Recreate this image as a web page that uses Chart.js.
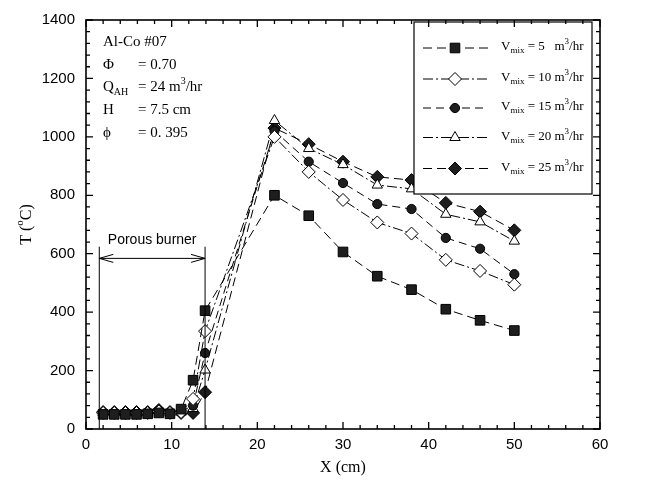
<!DOCTYPE html>
<html>
<head>
<meta charset="utf-8">
<script src="https://cdn.jsdelivr.net/npm/chart.js"></script>
<style>
  html, body { margin: 0; padding: 0; background: #fff; }
  #wrap { width: 646px; height: 482px; }
</style>
</head>
<body>
<div id="wrap"><canvas id="c" width="646" height="482"></canvas></div>
<script>
// positions of thermocouples (cm)
const xPos = [2.0, 3.3, 4.6, 5.9, 7.2, 8.5, 9.8, 11.1, 12.5, 13.9, 22, 26, 30, 34, 38, 42, 46, 50];

// temperatures (C) for each mixture flow rate
const t5  = [50, 50, 50, 50, 52, 55, 52, 68, 167, 405, 800, 730, 606, 523, 477, 410, 372, 337];
const t10 = [55, 55, 55, 55, 55, 60, 55, 58, 103, 335, 1000, 880, 784, 707, 669, 579, 541, 494];
const t15 = [55, 55, 55, 55, 55, 62, 55, 60, 80, 260, 1020, 915, 842, 770, 753, 654, 617, 530];
const t20 = [55, 55, 55, 55, 55, 62, 55, 58, 70, 202, 1056, 960, 905, 835, 822, 735, 709, 643];
const t25 = [58, 58, 58, 58, 58, 65, 58, 55, 55, 126, 1030, 975, 915, 863, 852, 774, 744, 680];

const flowRates = ['5  ', '10', '15', '20', '25'];
const xTicks = [0, 10, 20, 30, 40, 50, 60];
const yTicks = [0, 200, 400, 600, 800, 1000, 1200, 1400];

// porous burner extent (cm) and annotation levels (C)
const burnerFrom = 1.55;
const burnerTo = 13.9;
const burnerArrowT = 584;
const burnerLineTopT = 624;
const burnerTextT = 645;

const infoLines = [
  { label: [['Al-Co #07']], value: null },
  { label: [['Φ']], value: [['= 0.70']] },
  { label: [['Q'], ['AH', 'sub']], value: [['= 24 m'], ['3', 'sup'], ['/hr']] },
  { label: [['H']], value: [['= 7.5 cm']] },
  { label: [['ϕ']], value: [['= 0. 395']] }
];

const pts = arr => arr.map((v, i) => ({ x: xPos[i], y: v }));
const DARK = '#1e1e1e';

const styles = [
  { data: t5,  pointStyle: 'rect',     radius: 6.8, fill: DARK,   dash: [9, 5] },
  { data: t10, pointStyle: 'rectRot',  radius: 6.5, fill: '#fff', dash: [10, 3, 2, 3] },
  { data: t15, pointStyle: 'circle',   radius: 4.6, fill: DARK,   dash: [8, 5] },
  { data: t20, pointStyle: 'triangle', radius: 6,   fill: '#fff', dash: [10, 3, 2, 3] },
  { data: t25, pointStyle: 'rectRot',  radius: 6.5, fill: DARK,   dash: [9, 5] }
];

const datasets = styles.map((s, i) => ({
  label: 'Vmix = ' + flowRates[i] + ' m3/hr',
  data: pts(s.data),
  showLine: true,
  borderColor: '#000',
  borderWidth: 1,
  borderDash: s.dash,
  pointStyle: s.pointStyle,
  pointRadius: s.radius,
  pointBackgroundColor: s.fill,
  pointBorderColor: '#000',
  pointBorderWidth: 1,
  tension: 0
}));

function richText(ctx, parts, x, y, size, family, align) {
  const runs = parts.map(([t, kind]) => {
    const fs = kind ? Math.round(size * 0.68) : size;
    ctx.font = fs + 'px ' + family;
    return { t, fs, dy: kind === 'sub' ? size * 0.3 : kind === 'sup' ? -size * 0.4 : 0, w: ctx.measureText(t).width };
  });
  const total = runs.reduce((a, r) => a + r.w, 0);
  let cx = align === 'center' ? x - total / 2 : x;
  ctx.textAlign = 'left';
  ctx.textBaseline = 'middle';
  runs.forEach(r => {
    ctx.font = r.fs + 'px ' + family;
    ctx.fillText(r.t, cx, y + r.dy);
    cx += r.w;
  });
}

const decorations = {
  id: 'decorations',
  afterDatasetsDraw(chart) {
    const { ctx, chartArea: a, scales: { x, y } } = chart;
    const serif = '"Liberation Serif", "Times New Roman", serif';
    ctx.save();
    ctx.fillStyle = '#000';
    ctx.strokeStyle = '#000';

    // porous burner marker
    const bx1 = x.getPixelForValue(burnerFrom), bx2 = x.getPixelForValue(burnerTo);
    const by = y.getPixelForValue(burnerArrowT), btop = y.getPixelForValue(burnerLineTopT);
    ctx.lineWidth = 1;
    ctx.beginPath();
    ctx.moveTo(bx1, btop); ctx.lineTo(bx1, a.bottom);
    ctx.moveTo(bx2, btop); ctx.lineTo(bx2, a.bottom);
    ctx.moveTo(bx1, by); ctx.lineTo(bx2, by);
    ctx.moveTo(bx1 + 14, by - 4); ctx.lineTo(bx1, by); ctx.lineTo(bx1 + 14, by + 4);
    ctx.moveTo(bx2 - 14, by - 4); ctx.lineTo(bx2, by); ctx.lineTo(bx2 - 14, by + 4);
    ctx.stroke();
    ctx.font = '14px "Liberation Sans", Arial, sans-serif';
    ctx.textAlign = 'center';
    ctx.textBaseline = 'middle';
    ctx.fillText('Porous burner', (bx1 + bx2) / 2, y.getPixelForValue(burnerTextT));

    // legend box
    const lx = 414, ly = 22, lw = 178, lh = 172;
    ctx.fillStyle = '#fff';
    ctx.fillRect(lx, ly, lw, lh);
    ctx.lineWidth = 1.2;
    ctx.strokeRect(lx, ly, lw, lh);
    const rows = [48, 79, 108, 137.5, 168.5];
    chart.data.datasets.forEach((ds, i) => {
      const ry = rows[i];
      ctx.save();
      ctx.lineWidth = 1;
      ctx.setLineDash(ds.borderDash);
      ctx.beginPath();
      ctx.moveTo(423, ry); ctx.lineTo(488, ry);
      ctx.stroke();
      ctx.restore();
      ctx.fillStyle = ds.pointBackgroundColor;
      ctx.strokeStyle = '#000';
      ctx.lineWidth = 1;
      Chart.helpers.drawPoint(ctx, { pointStyle: ds.pointStyle, radius: ds.pointRadius, rotation: 0, borderWidth: 1 }, 455, ry);
      ctx.fillStyle = '#000';
      richText(ctx, [['V'], ['mix', 'sub'], [' = ' + flowRates[i] + ' m'], ['3', 'sup'], ['/hr']], 501, ry - 1, 13, serif, 'left');
    });

    // info text
    infoLines.forEach((ln, i) => {
      const ty = 42 + i * 22.7;
      richText(ctx, ln.label, 103, ty, 15, serif, 'left');
      if (ln.value) richText(ctx, ln.value, 138, ty, 15, serif, 'left');
    });

    // frame
    ctx.strokeStyle = '#000';
    ctx.lineWidth = 1.6;
    ctx.strokeRect(a.left, a.top, a.right - a.left, a.bottom - a.top);

    // inward ticks on all four sides
    ctx.lineWidth = 1.3;
    ctx.beginPath();
    for (let v = x.min; v <= x.max + 1e-9; v += 2) {
      const px = x.getPixelForValue(v);
      const len = v % 10 === 0 ? 7 : 4;
      ctx.moveTo(px, a.bottom); ctx.lineTo(px, a.bottom - len);
      ctx.moveTo(px, a.top); ctx.lineTo(px, a.top + len);
    }
    for (let v = y.min; v <= y.max + 1e-9; v += 40) {
      const py = y.getPixelForValue(v);
      const len = v % 200 === 0 ? 7 : 4;
      ctx.moveTo(a.left, py); ctx.lineTo(a.left + len, py);
      ctx.moveTo(a.right, py); ctx.lineTo(a.right - len, py);
    }
    ctx.stroke();

    // axis titles
    ctx.fillStyle = '#000';
    richText(ctx, [['X (cm)']], (a.left + a.right) / 2, 468, 16, serif, 'center');
    ctx.save();
    ctx.translate(27, (a.top + a.bottom) / 2);
    ctx.rotate(-Math.PI / 2);
    richText(ctx, [['T ('], ['o', 'sup'], ['C)']], 0, 0, 16, serif, 'center');
    ctx.restore();

    ctx.restore();
  }
};

const tickFont = { family: '"Liberation Sans", Arial, sans-serif', size: 15 };

new Chart(document.getElementById('c'), {
  type: 'scatter',
  data: { datasets },
  options: {
    responsive: false,
    animation: false,
    layout: { padding: { left: 0, right: 46, top: 12, bottom: 0 } },
    plugins: { legend: { display: false }, tooltip: { enabled: false } },
    scales: {
      x: {
        type: 'linear', min: xTicks[0], max: xTicks[xTicks.length - 1],
        afterBuildTicks: s => { s.ticks = xTicks.map(v => ({ value: v })); },
        afterFit: s => { s.height = 53; },
        ticks: { font: tickFont, color: '#000', padding: 7, maxRotation: 0, callback: v => String(v) },
        grid: { display: false, drawTicks: false },
        border: { display: false }
      },
      y: {
        type: 'linear', min: yTicks[0], max: yTicks[yTicks.length - 1],
        afterBuildTicks: s => { s.ticks = yTicks.map(v => ({ value: v })); },
        afterFit: s => { s.width = 86; },
        ticks: { font: tickFont, color: '#000', padding: 11, callback: v => String(v) },
        grid: { display: false, drawTicks: false },
        border: { display: false }
      }
    }
  },
  plugins: [decorations]
});
</script>
</body>
</html>
